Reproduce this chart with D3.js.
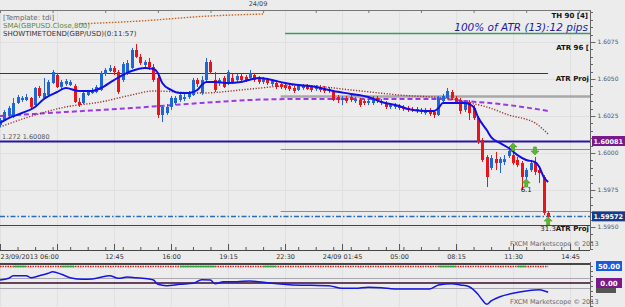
<!DOCTYPE html>
<html><head><meta charset="utf-8">
<script src="https://cdn.jsdelivr.net/npm/d3@7"></script>
<style>
html,body{margin:0;padding:0;background:#ececec;}
svg{display:block;}
text{font-family:"DejaVu Sans",sans-serif;}
</style></head><body>
<svg id="c" width="625" height="307"></svg>
<script>
// ---------------- DATA ----------------
const opens = [
1.60189,1.60223,1.60257,1.60243,1.60338,1.60358,1.60358,1.60372,1.60324,1.60439,
1.60372,1.60392,1.60473,1.60527,1.60446,1.60466,1.60459,1.60453,1.60345,1.60338,
1.60392,1.60405,1.60412,1.60426,1.60534,1.60554,1.60574,1.60547,1.60493,1.60541,
1.60574,1.60696,1.60649,1.60595,1.60615,1.60581,1.60507,1.60257,1.60270,1.60311,
1.60338,1.60358,1.60365,1.60378,1.60392,1.60493,1.60405,1.60493,1.60615,1.60493,
1.60473,1.60507,1.60473,1.60507,1.60493,1.60520,1.60514,1.60507,1.60527,1.60507,
1.60480,1.60493,1.60466,1.60473,1.60466,1.60459,1.60453,1.60439,1.60426,1.60439,
1.60453,1.60446,1.60432,1.60446,1.60439,1.60432,1.60412,1.60378,1.60358,1.60372,
1.60378,1.60351,1.60358,1.60351,1.60338,1.60338,1.60372,1.60351,1.60338,1.60311,
1.60311,1.60318,1.60311,1.60304,1.60297,1.60297,1.60291,1.60270,1.60291,1.60277,
1.60257,1.60351,1.60372,1.60412,1.60372,1.60358,1.60291,1.60345,1.60304,1.60236,
1.60088,1.59973,1.59899,1.59959,1.59932,1.59939,1.59980,1.59986,1.59953,1.59932,
1.59838,1.59885,1.59939,1.59885,1.59838,1.59595];
const highs = [
1.60236,1.60291,1.60318,1.60372,1.60392,1.60385,1.60399,1.60378,1.60446,1.60453,
1.60507,1.60493,1.60561,1.60541,1.60493,1.60500,1.60493,1.60466,1.60372,1.60419,
1.60426,1.60439,1.60459,1.60554,1.60574,1.60595,1.60588,1.60561,1.60615,1.60628,
1.60710,1.60737,1.60669,1.60628,1.60642,1.60601,1.60520,1.60324,1.60331,1.60385,
1.60385,1.60405,1.60399,1.60419,1.60507,1.60507,1.60520,1.60642,1.60628,1.60547,
1.60507,1.60520,1.60561,1.60534,1.60534,1.60534,1.60527,1.60561,1.60541,1.60520,
1.60514,1.60507,1.60500,1.60486,1.60480,1.60473,1.60466,1.60453,1.60466,1.60466,
1.60466,1.60459,1.60459,1.60459,1.60453,1.60446,1.60426,1.60392,1.60385,1.60385,
1.60392,1.60378,1.60372,1.60365,1.60365,1.60385,1.60385,1.60365,1.60351,1.60338,
1.60338,1.60331,1.60324,1.60318,1.60311,1.60311,1.60304,1.60304,1.60304,1.60291,
1.60385,1.60399,1.60439,1.60426,1.60385,1.60372,1.60358,1.60358,1.60324,1.60250,
1.60101,1.59986,1.59986,1.60007,1.59973,1.59986,1.60041,1.60007,1.59973,1.59946,
1.59899,1.59953,1.59973,1.59899,1.59851,1.59608];
const lows = [
1.60176,1.60216,1.60243,1.60236,1.60331,1.60345,1.60351,1.60297,1.60318,1.60372,
1.60365,1.60385,1.60466,1.60439,1.60432,1.60453,1.60453,1.60338,1.60311,1.60331,
1.60385,1.60399,1.60405,1.60419,1.60520,1.60547,1.60527,1.60399,1.60480,1.60527,
1.60568,1.60642,1.60595,1.60581,1.60561,1.60480,1.60236,1.60209,1.60257,1.60291,
1.60324,1.60345,1.60351,1.60365,1.60385,1.60446,1.60392,1.60480,1.60534,1.60412,
1.60453,1.60439,1.60459,1.60466,1.60480,1.60480,1.60480,1.60493,1.60480,1.60466,
1.60466,1.60459,1.60453,1.60432,1.60432,1.60426,1.60419,1.60405,1.60419,1.60426,
1.60426,1.60412,1.60419,1.60412,1.60405,1.60405,1.60351,1.60338,1.60324,1.60338,
1.60345,1.60338,1.60311,1.60324,1.60324,1.60324,1.60338,1.60324,1.60297,1.60297,
1.60297,1.60291,1.60284,1.60277,1.60277,1.60270,1.60264,1.60257,1.60250,1.60236,
1.60250,1.60338,1.60365,1.60358,1.60331,1.60264,1.60277,1.60223,1.60223,1.60061,
1.59939,1.59770,1.59885,1.59885,1.59865,1.59919,1.59966,1.59919,1.59905,1.59750,
1.59818,1.59872,1.59851,1.59797,1.59581,1.59565];
const closes = [
1.60223,1.60277,1.60304,1.60338,1.60378,1.60372,1.60378,1.60311,1.60439,1.60385,
1.60405,1.60480,1.60547,1.60446,1.60480,1.60486,1.60480,1.60345,1.60324,1.60405,
1.60412,1.60426,1.60446,1.60541,1.60561,1.60574,1.60547,1.60412,1.60601,1.60608,
1.60696,1.60649,1.60608,1.60615,1.60581,1.60493,1.60257,1.60311,1.60311,1.60372,
1.60372,1.60392,1.60378,1.60405,1.60493,1.60466,1.60493,1.60615,1.60547,1.60426,
1.60493,1.60446,1.60547,1.60480,1.60520,1.60493,1.60493,1.60541,1.60493,1.60480,
1.60500,1.60473,1.60486,1.60446,1.60446,1.60439,1.60432,1.60419,1.60453,1.60459,
1.60432,1.60426,1.60446,1.60426,1.60419,1.60419,1.60358,1.60358,1.60372,1.60351,
1.60358,1.60365,1.60324,1.60338,1.60351,1.60372,1.60351,1.60338,1.60311,1.60324,
1.60324,1.60304,1.60297,1.60291,1.60291,1.60284,1.60277,1.60291,1.60264,1.60257,
1.60372,1.60385,1.60419,1.60372,1.60345,1.60284,1.60345,1.60270,1.60236,1.60074,
1.59953,1.59838,1.59966,1.59932,1.59959,1.59959,1.60014,1.59932,1.59919,1.59838,
1.59885,1.59932,1.59872,1.59865,1.59595,1.59572];

// fast EMA (solid blue) : candle index / value
const emaIdx = [0,2,5,8,10,13,15,18,21,23,26,30,33,35,36,37,39,41,43,45,46,47,49,52,55,59,61,63,65,68,72,76,80,84,87,91,93,97,99,100,101,103,106,108,109,111,112,114,116,118,120,122,123,124,125];
const emaVal = [1.60203,1.60236,1.60270,1.60311,1.60365,1.60412,1.60439,1.60419,1.60419,1.60439,1.60493,1.60554,1.60574,1.60568,1.60541,1.60473,1.60426,1.60405,1.60405,1.60426,1.60459,1.60480,1.60480,1.60473,1.60480,1.60507,1.60500,1.60486,1.60473,1.60459,1.60446,1.60419,1.60399,1.60378,1.60345,1.60318,1.60297,1.60284,1.60284,1.60304,1.60338,1.60338,1.60338,1.60311,1.60243,1.60155,1.60108,1.60068,1.60034,1.59986,1.59953,1.59939,1.59905,1.59838,1.59804];
// medium MA (brown dotted)
const maIdx = [0,8,15,23,30,35,46,57,68,80,91,103,106,111,116,122,125];
const maVal = [1.60176,1.60257,1.60311,1.60345,1.60392,1.60419,1.60405,1.60432,1.60459,1.60426,1.60392,1.60365,1.60345,1.60311,1.60257,1.60203,1.60128];
// slow MA (violet dashed)
const slowIdx = [0,15,30,46,57,68,80,91,101,106,114,125];
const slowVal = [1.60250,1.60277,1.60304,1.60338,1.60358,1.60365,1.60365,1.60365,1.60365,1.60351,1.60331,1.60284];
// SMA 800 (orange dotted, top)
const smaIdx = [18,32,48,60];
const smaVal = [1.60872,1.60892,1.60926,1.60939];
// horizontal levels
const levelPrices = [1.60811,1.60541,1.60385,1.60081,1.60027,1.59608,1.59572,1.59513];
const levelFrom   = [65,0,64,0,64,64,0,0];
// signal arrows
const arrowIdx = [117,122,120,125];
const arrowVal = [1.60041,1.60014,1.59797,1.59540];
const arrowDir = ["up","down","up","up"];
const arrowLabels = [["6.1",120,1.59735],["31.3",125,1.59470]];
// oscillator (lower panel)
const oscIdx = [0,2,3,6,7,9,11,12,14,16,19,21,24,25,27,29,31,34,35,36,38,41,44,46,48,49,51,54,57,59,62,66,71,75,78,81,84,87,90,96,98,100,103,105,107,109,110,111,112,114,117,120,123,125];
const oscVal = [8.8,13.8,21.5,21.5,15.6,21.5,28.5,33.2,25.6,15.6,10.9,11.8,19.7,21.5,13.8,17.6,15.6,11.8,8.8,-3.8,-7.9,-3.8,-0.9,9.7,8.8,-2.1,3.8,3.8,5.9,3.8,-0.9,-5,-6.8,-7.9,-15.6,-15.6,-12.6,-13.8,-17.6,-17.6,-17.6,-5.9,-2.1,-5.9,-10.9,-33.2,-50,-62.6,-52.9,-40.3,-30.3,-23.5,-19.7,-27.3];
const oscBands = [15, -15];
const signalGreen = [[3,6],[14,17],[41,49],[60,63],[100,104],[118,120]];
// axes
const priceTicks = [1.5950,1.5975,1.6000,1.6025,1.6050,1.6075];
const xTickLabels = ["23/09/2013 06:00","","12:45","16:00","19:15","22:30","24/09 01:45","05:00","08:15","11:30","14:45"];
const lastPrice = 1.59572, fiboPrice = 1.60081;

// ---------------- DRAW ----------------
const svg = d3.select("#c");
const R = 590, MT = 10, MB = 250, ST = 262, SB = 307;
const start = new Date(2013,8,23,6,0);
const tm = i => d3.timeMinute.offset(start, 15*i);
const x = d3.scaleTime().domain([start, tm(134)]).range([0, 4.385*134]);
const y = d3.scaleLinear().domain([1.5950,1.6075]).range([227,42]);
const ys = d3.scaleLinear().domain([0,50]).range([283,266]);

svg.append("rect").attr("width",625).attr("height",307).attr("fill","#ececec");
const defs = svg.append("defs");
defs.append("clipPath").attr("id","cm").append("rect").attr("x",0).attr("y",MT).attr("width",R).attr("height",MB-MT);
defs.append("clipPath").attr("id","cs").append("rect").attr("x",0).attr("y",ST).attr("width",R).attr("height",SB-ST);

const main = svg.append("g").attr("clip-path","url(#cm)");
const sub = svg.append("g").attr("clip-path","url(#cs)");

// grid
const tickTimes = xTickLabels.map((d,k)=>d3.timeMinute.offset(start,195*k));
[main,sub].forEach((g,gi)=>{
  g.selectAll(null).data(tickTimes).join("line")
   .attr("x1",d=>x(d)+0.5).attr("x2",d=>x(d)+0.5)
   .attr("y1",gi?ST:MT).attr("y2",gi?SB:MB).attr("stroke","#e0e0e0");
});
main.selectAll(null).data(priceTicks).join("line")
  .attr("x1",0).attr("x2",R).attr("y1",d=>Math.round(y(d))+0.5).attr("y2",d=>Math.round(y(d))+0.5)
  .attr("stroke","#e0e0e0");

// SMA 800 top
const lineIdx = (idx, val, sc) => d3.line().x((d,k)=>x(tm(idx[k]))).y((d,k)=>sc(val[k])).curve(d3.curveMonotoneX)(idx);
main.append("path").attr("d",lineIdx(smaIdx,smaVal,y)).attr("fill","none")
  .attr("stroke","#c8641e").attr("stroke-width",1.4).attr("stroke-dasharray","1.5,1.5");

// levels
const levelStyle = [
  {c:"#3c9a5c",w:1.5,to:R},{c:"#2a2aa8",w:1,to:x(tm(125))},{c:"#a8a8a8",w:2.5,to:R},
  {c:"#2a14a0",w:2,to:R},{c:"#e06a6a",w:1,to:R},{c:"#e06a6a",w:1,to:R},
  {c:"#2a6cb8",w:1.5,to:R,dash:"5,2,1.5,2"},{c:"#3232c8",w:1.2,to:R}];
levelPrices.forEach((p,k)=>{
  const s = levelStyle[k];
  main.append("line").attr("x1",x(tm(levelFrom[k]))).attr("x2",s.to)
    .attr("y1",Math.round(y(p))+0.5).attr("y2",Math.round(y(p))+0.5)
    .attr("stroke",s.c).attr("stroke-width",s.w).attr("stroke-dasharray",s.dash||null);
});

// MAs
main.append("path").attr("d",lineIdx(slowIdx,slowVal,y)).attr("fill","none")
  .attr("stroke","#9a3ae6").attr("stroke-width",2).attr("stroke-dasharray","5,3");
main.append("path").attr("d",lineIdx(maIdx,maVal,y)).attr("fill","none")
  .attr("stroke","#9a3030").attr("stroke-width",1.4).attr("stroke-dasharray","1.2,1.6");

// candles
const cd = opens.map((o,i)=>({i,o,h:highs[i],l:lows[i],c:closes[i]}));
const up = "#1f66d4", dn = "#e8141c";
const cg = main.append("g");
cg.selectAll("line").data(cd).join("line")
  .attr("x1",d=>Math.round(x(tm(d.i)))+0.5).attr("x2",d=>Math.round(x(tm(d.i)))+0.5)
  .attr("y1",d=>y(d.h)).attr("y2",d=>y(d.l)).attr("stroke",d=>d.c>=d.o?up:dn);
cg.selectAll("rect").data(cd).join("rect")
  .attr("x",d=>Math.round(x(tm(d.i)))-1).attr("width",3)
  .attr("y",d=>y(Math.max(d.o,d.c))).attr("height",d=>Math.max(1,Math.abs(y(d.o)-y(d.c))))
  .attr("fill",d=>d.c>=d.o?up:dn);

// EMA
main.append("path").attr("d",lineIdx(emaIdx,emaVal,y)).attr("fill","none")
  .attr("stroke","#1010e6").attr("stroke-width",2);

// arrows
arrowIdx.forEach((ai,k)=>{
  const cx = x(tm(ai)), cy = y(arrowVal[k]);
  const s = arrowDir[k]==="up" ? 1 : -1;
  const p = `M${cx},${cy-4*s} L${cx+4},${cy} L${cx+1.5},${cy} L${cx+1.5},${cy+4*s} L${cx-1.5},${cy+4*s} L${cx-1.5},${cy} L${cx-4},${cy} Z`;
  main.append("path").attr("d",p).attr("fill","#5cb82c").attr("stroke","#3a8a1a").attr("stroke-width",0.5);
});
arrowLabels.forEach(a=>{
  main.append("text").attr("x",x(tm(a[1]))).attr("y",y(a[2])).attr("text-anchor","middle")
    .attr("font-size",7).attr("fill","#222").attr("font-family","Liberation Sans").text(a[0]);
});

// texts in main
const T = (g,xx,yy,t,o)=>g.append("text").attr("x",xx).attr("y",yy).text(t)
  .attr("font-size",o.s||7).attr("fill",o.c||"#333").attr("text-anchor",o.a||"start")
  .attr("font-weight",o.w||null).attr("font-style",o.i?"italic":null).attr("font-family",o.f||null);
const LS = "Liberation Sans, Arial, sans-serif";
T(svg,3,20,"[Template: tdi]",{c:"#666",s:7});
T(svg,3,28,"SMA(GBPUSD.Close,800)",{c:"#5a8a3a",s:7});
T(svg,3,36,"SHOWTIMETOEND(GBP/USD)(0:11:57)",{c:"#333",s:7});
T(svg,2,139,"1.272 1.60080",{c:"#555",s:6.5});
T(svg,588,18,"TH 90 [4]",{c:"#111",s:7,a:"end",w:"bold",f:LS});
T(svg,588,31,"100% of ATR (13):12 pips",{c:"#1c1ca0",s:10.5,a:"end",i:true,f:LS});
T(svg,589,50,"ATR 96 [",{c:"#111",s:7,a:"end",w:"bold",f:LS});
T(svg,589,81,"ATR Proj",{c:"#111",s:7,a:"end",w:"bold",f:LS});
T(svg,589,231,"ATR Proj",{c:"#111",s:7,a:"end",w:"bold",f:LS});
T(svg,510,246,"FXCM Marketscope © 2013",{c:"#666",s:6.5});
T(svg,258,6,"24/09",{c:"#444",s:6.5,a:"middle"});

// frame lines
svg.append("line").attr("x1",0).attr("x2",R).attr("y1",MT+0.5).attr("y2",MT+0.5).attr("stroke","#777");
svg.append("line").attr("x1",0).attr("x2",R).attr("y1",MB+0.5).attr("y2",MB+0.5).attr("stroke","#444");
svg.append("line").attr("x1",R+0.5).attr("x2",R+0.5).attr("y1",MT).attr("y2",MB).attr("stroke","#666");
svg.append("line").attr("x1",R+0.5).attr("x2",R+0.5).attr("y1",ST).attr("y2",SB).attr("stroke","#666");
// top ticks
svg.selectAll(null).data(d3.range(0,12)).join("line")
  .attr("x1",k=>x(tm(12*k))+0.5).attr("x2",k=>x(tm(12*k))+0.5).attr("y1",MT).attr("y2",MT+3).attr("stroke","#777");

// right price axis
const yAxis = d3.axisRight(y).tickValues(priceTicks).tickFormat(d3.format(".4f")).tickSize(5);
const ga = svg.append("g").attr("transform",`translate(${R+0.5},0)`).call(yAxis);
ga.select(".domain").remove();
ga.selectAll("line").attr("stroke","#666");
ga.selectAll("text").attr("font-size",6).attr("fill","#556").attr("font-family","DejaVu Sans").attr("x",7);
const minor = d3.range(1.5935,1.6095,0.0005);
svg.selectAll(null).data(minor).join("line")
  .attr("x1",R).attr("x2",R+3).attr("y1",d=>Math.round(y(d))+0.5).attr("y2",d=>Math.round(y(d))+0.5).attr("stroke","#666");

// bottom time axis
const xAxis = d3.axisBottom(x).tickValues(tickTimes).tickFormat((d,k)=>xTickLabels[k]).tickSize(0);
const gx = svg.append("g").attr("transform",`translate(0,${MB})`).call(xAxis);
gx.select(".domain").remove();
gx.selectAll("text").attr("font-size",6.5).attr("fill","#333").attr("font-family","DejaVu Sans").attr("y",4);
gx.selectAll(".tick").filter((d,k)=>k===0).select("text").attr("text-anchor","start").attr("x",0);
svg.selectAll(null).data(d3.range(0,135,4)).join("line")
  .attr("x1",i=>x(tm(i))+0.5).attr("x2",i=>x(tm(i))+0.5).attr("y1",MB-3).attr("y2",MB).attr("stroke","#555");
svg.selectAll(null).data(tickTimes).join("line")
  .attr("x1",d=>x(d)+0.5).attr("x2",d=>x(d)+0.5).attr("y1",MB-6).attr("y2",MB).attr("stroke","#555");

// price tags
const tag = (yy,txt,bg)=>{
  svg.append("rect").attr("x",R+2).attr("y",yy-5).attr("width",33).attr("height",10).attr("fill",bg);
  svg.append("text").attr("x",R+3.5).attr("y",yy+2.5).attr("font-size",6.5).attr("fill","#fff")
    .attr("font-family","DejaVu Sans").attr("font-weight","bold").text(txt);
};
tag(y(fiboPrice),d3.format(".5f")(fiboPrice),"#7a1a8a");
tag(y(lastPrice),d3.format(".5f")(lastPrice),"#183c84");

// ---------- lower panel ----------
sub.append("line").attr("x1",0).attr("x2",R).attr("y1",264).attr("y2",264).attr("stroke","#111").attr("stroke-width",1.5);
sub.append("line").attr("x1",0).attr("x2",x(tm(125))).attr("y1",266.5).attr("y2",266.5)
  .attr("stroke","#d82020").attr("stroke-width",1.3).attr("stroke-dasharray","1.5,1");
signalGreen.forEach(r=>{
  sub.append("line").attr("x1",x(tm(r[0]))).attr("x2",x(tm(r[1]))).attr("y1",266.5).attr("y2",266.5)
   .attr("stroke","#3aa040").attr("stroke-width",1.5);
});
oscBands.forEach(b=>{
  sub.append("line").attr("x1",0).attr("x2",R).attr("y1",Math.round(ys(b))+0.5).attr("y2",Math.round(ys(b))+0.5)
   .attr("stroke","#a8a8b0").attr("stroke-width",1);
});
sub.append("line").attr("x1",0).attr("x2",R).attr("y1",ys(0)).attr("y2",ys(0)).attr("stroke","#3a0a30").attr("stroke-width",1.5);
sub.append("path").attr("d",lineIdx(oscIdx,oscVal,ys)).attr("fill","none").attr("stroke","#1414e6").attr("stroke-width",1.5);
T(svg,510,304,"FXCM Marketscope © 2013",{c:"#666",s:6.5});
// sub-axis ticks
svg.selectAll(null).data(d3.range(266,307,5)).join("line")
  .attr("x1",R).attr("x2",R+3).attr("y1",d=>d+0.5).attr("y2",d=>d+0.5).attr("stroke","#666");
const tag2 = (yy,txt,bg)=>{
  svg.append("rect").attr("x",R+6).attr("y",yy-5).attr("width",26).attr("height",10).attr("fill",bg);
  svg.append("text").attr("x",R+19).attr("y",yy+3).attr("font-size",7).attr("fill","#fff").attr("text-anchor","middle")
    .attr("font-family","DejaVu Sans").attr("font-weight","bold").text(txt);
};
svg.append("rect").attr("x",R+6).attr("y",ys(0)+3).attr("width",20).attr("height",7).attr("fill","#555");
tag2(ys(50),"50.00","#1a5ae0");
tag2(ys(0),"0.00","#7a1a8a");
</script>
</body></html>
